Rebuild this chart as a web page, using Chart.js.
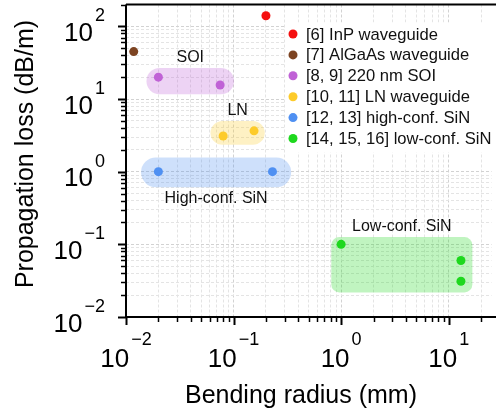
<!DOCTYPE html>
<html>
<head>
<meta charset="utf-8">
<script src="https://cdn.jsdelivr.net/npm/chart.js@4.4.1/dist/chart.umd.min.js"></script>
<style>
  body { margin: 0; background: #fff; }
  #wrap { width: 496px; height: 414px; }
</style>
</head>
<body>
<div id="wrap"><canvas id="lossChart" width="496" height="414"></canvas></div>
<script>
const seriesLabels = [
  "[6] InP waveguide",
  "[7] AlGaAs waveguide",
  "[8, 9] 220 nm SOI",
  "[10, 11] LN waveguide",
  "[12, 13] high-conf. SiN",
  "[14, 15, 16] low-conf. SiN"
];
const seriesColors = ["#f50f0f", "#7d4422", "#c062d6", "#fdcb2a", "#4f90f2", "#1ed81e"];
const radiusMm = [[0.2], [0.0118], [0.02, 0.075], [0.08, 0.155], [0.02, 0.23], [1.0, 13, 13]];
const lossDbPerM = [[140], [45], [20, 15.6], [3.1, 3.65], [1.0, 1.0], [0.1, 0.06, 0.031]];

const regionNames = ["SOI", "LN", "High-conf. SiN", "Low-conf. SiN"];
const regionSeries = [2, 3, 4, 5];
const regionX = [[0.0155, 0.101], [0.061, 0.195], [0.0138, 0.343], [0.81, 16.6]];
const regionY = [[11.6, 26.8], [2.34, 5.0], [0.61, 1.57], [0.0218, 0.126]];
const regionLabelBelow = [false, false, true, false];

const xTickExps = [-2, -1, 0, 1];
const yTickExps = [-2, -1, 0, 1, 2];

const FONT = "'Liberation Sans', Arial, sans-serif";

function mantissa(v) {
  const e = Math.floor(Math.log10(v) + 1e-9);
  return v / Math.pow(10, e);
}
function isMinorOrMajor(v) {
  const m = mantissa(v);
  return Math.abs(m - Math.round(m)) < 1e-6;
}
function isMajor(v) {
  return Math.abs(mantissa(v) - 1) < 1e-6;
}

function hexAlpha(hex, a) {
  const r = parseInt(hex.slice(1, 3), 16), g = parseInt(hex.slice(3, 5), 16), b = parseInt(hex.slice(5, 7), 16);
  return `rgba(${r},${g},${b},${a})`;
}

function roundRect(ctx, x, y, w, h, r) {
  r = Math.min(r, h / 2, w / 2);
  ctx.beginPath();
  ctx.moveTo(x + r, y);
  ctx.lineTo(x + w - r, y);
  ctx.arcTo(x + w, y, x + w, y + r, r);
  ctx.lineTo(x + w, y + h - r);
  ctx.arcTo(x + w, y + h, x + w - r, y + h, r);
  ctx.lineTo(x + r, y + h);
  ctx.arcTo(x, y + h, x, y + h - r, r);
  ctx.lineTo(x, y + r);
  ctx.arcTo(x, y, x + r, y, r);
  ctx.closePath();
}

const datasets = seriesLabels.map((label, i) => ({
  label,
  data: radiusMm[i].map((x, j) => ({ x, y: lossDbPerM[i][j] })),
  backgroundColor: seriesColors[i],
  borderWidth: 0,
  pointRadius: 4.5,
  pointHoverRadius: 4.5
}));

// shaded groups + their labels, under the points
const regionPlugin = {
  id: "regions",
  beforeDatasetsDraw(chart) {
    const { ctx, scales: { x, y } } = chart;
    const corner = [13, 12, 15, 8];
    ctx.save();
    regionNames.forEach((name, i) => {
      const x0 = x.getPixelForValue(regionX[i][0]);
      const x1 = x.getPixelForValue(regionX[i][1]);
      const y0 = y.getPixelForValue(regionY[i][1]);
      const y1 = y.getPixelForValue(regionY[i][0]);
      ctx.fillStyle = hexAlpha(seriesColors[regionSeries[i]], 0.28);
      roundRect(ctx, x0, y0, x1 - x0, y1 - y0, corner[i]);
      ctx.fill();

      ctx.fillStyle = "#111";
      ctx.font = `16px ${FONT}`;
      ctx.textAlign = "center";
      if (regionLabelBelow[i]) {
        ctx.textBaseline = "top";
        ctx.fillText(name, (x0 + x1) / 2, y1 + 3);
      } else {
        ctx.textBaseline = "bottom";
        ctx.fillText(name, (x0 + x1) / 2, y0 - 2);
      }
    });
    ctx.restore();
  }
};

// spines, tick marks, power-of-ten labels, titles, legend
const axesPlugin = {
  id: "axesDeco",
  afterDraw(chart) {
    const { ctx, chartArea: a, scales: { x, y } } = chart;
    const right = chart.width;
    ctx.save();

    // tick marks
    ctx.strokeStyle = "#000";
    x.ticks.forEach((t) => {
      if (!isMinorOrMajor(t.value)) return;
      const px = Math.round(x.getPixelForValue(t.value)) + 0.5;
      const major = isMajor(t.value);
      ctx.lineWidth = major ? 2 : 1.5;
      ctx.beginPath();
      ctx.moveTo(px, a.bottom);
      ctx.lineTo(px, a.bottom + (major ? 8 : 5));
      ctx.stroke();
    });
    y.ticks.forEach((t) => {
      if (!isMinorOrMajor(t.value)) return;
      const py = Math.round(y.getPixelForValue(t.value)) + 0.5;
      const major = isMajor(t.value);
      ctx.lineWidth = major ? 2 : 1.5;
      ctx.beginPath();
      ctx.moveTo(a.left, py);
      ctx.lineTo(a.left - (major ? 8 : 5), py);
      ctx.stroke();
    });

    // spines
    ctx.lineWidth = 2;
    ctx.beginPath();
    ctx.moveTo(a.left, a.top);
    ctx.lineTo(right, a.top);
    ctx.moveTo(a.left, a.top);
    ctx.lineTo(a.left, a.bottom);
    ctx.lineTo(right, a.bottom);
    ctx.stroke();

    // tick labels 10^n
    ctx.fillStyle = "#000";
    const big = `26px ${FONT}`, small = `18px ${FONT}`;
    const expText = (e) => (e < 0 ? "\u2212" + (-e) : String(e));
    xTickExps.forEach((e) => {
      const px = x.getPixelForValue(Math.pow(10, e));
      ctx.font = big;
      const w1 = ctx.measureText("10").width;
      ctx.font = small;
      const w2 = ctx.measureText(expText(e)).width;
      const left = px - (w1 + w2 + 2) / 2;
      ctx.textAlign = "left";
      ctx.textBaseline = "alphabetic";
      ctx.font = big;
      ctx.fillText("10", left, a.bottom + 50);
      ctx.font = small;
      ctx.fillText(expText(e), left + w1 + 2, a.bottom + 28);
    });
    yTickExps.forEach((e) => {
      const py = y.getPixelForValue(Math.pow(10, e));
      ctx.font = small;
      const w2 = ctx.measureText(expText(e)).width;
      const rx = a.left - 21;
      ctx.textAlign = "left";
      ctx.textBaseline = "alphabetic";
      ctx.fillText(expText(e), rx - w2, py - 5);
      ctx.font = big;
      ctx.textAlign = "right";
      ctx.fillText("10", rx - w2 - 2, py + 14.5);
    });

    // axis titles
    ctx.font = `25px ${FONT}`;
    ctx.textAlign = "center";
    ctx.textBaseline = "alphabetic";
    ctx.fillText("Bending radius (mm)", 301, a.bottom + 86);
    ctx.save();
    ctx.translate(33, 154);
    ctx.rotate(-Math.PI / 2);
    ctx.fillText("Propagation loss (dB/m)", 0, 0);
    ctx.restore();

    // legend
    const lx = right - 211, ly = a.top + 18;
    ctx.fillStyle = "#fff";
    ctx.fillRect(lx, ly, 211, 130);
    ctx.font = `16.6px ${FONT}`;
    ctx.textAlign = "left";
    ctx.textBaseline = "middle";
    seriesLabels.forEach((label, i) => {
      const cy = ly + 11.5 + i * 20.9;
      ctx.fillStyle = seriesColors[i];
      ctx.beginPath();
      ctx.arc(lx + 8, cy, 4.5, 0, Math.PI * 2);
      ctx.fill();
      ctx.fillStyle = "#111";
      ctx.fillText(label, lx + 21, cy + 1);
    });

    ctx.restore();
  }
};

const gridColor = (ctx) => {
  const v = ctx.tick && ctx.tick.value;
  if (!v || !isMinorOrMajor(v)) return "rgba(0,0,0,0)";
  return isMajor(v) ? "#d2d2d2" : "#e4e4e4";
};

new Chart(document.getElementById("lossChart"), {
  type: "scatter",
  data: { datasets },
  options: {
    responsive: false,
    animation: false,
    events: [],
    layout: { padding: { left: 126, top: 4, right: -6, bottom: 97 } },
    plugins: { legend: { display: false }, tooltip: { enabled: false } },
    scales: {
      x: {
        type: "logarithmic",
        min: 0.01,
        max: 25,
        ticks: { display: false, autoSkip: false },
        grid: { color: gridColor, lineWidth: 1, drawTicks: false },
        border: { display: false, dash: [3, 2] }
      },
      y: {
        type: "logarithmic",
        min: 0.01,
        max: 200,
        ticks: { display: false, autoSkip: false },
        grid: { color: gridColor, lineWidth: 1, drawTicks: false },
        border: { display: false, dash: [3, 2] }
      }
    }
  },
  plugins: [regionPlugin, axesPlugin]
});
</script>
</body>
</html>
